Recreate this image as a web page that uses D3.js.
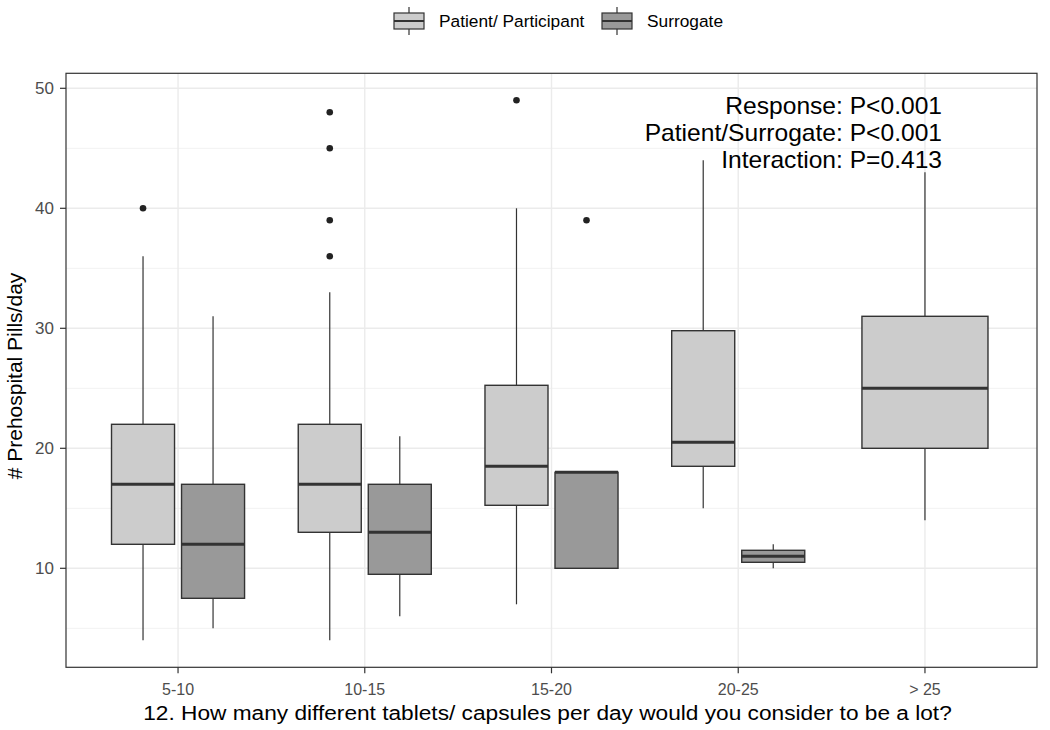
<!DOCTYPE html>
<html><head><meta charset="utf-8">
<script src="https://cdn.jsdelivr.net/npm/d3@7"></script>
<style>body{margin:0;background:#fff}svg{display:block}text{font-family:"Liberation Sans",Arial,sans-serif}</style>
</head><body>
<svg id="c" width="1050" height="730"></svg>
<script>
const categories = ["5-10","10-15","15-20","20-25","> 25"];
const groups = ["Patient/ Participant","Surrogate"];
// Patient/ Participant box statistics
const patientLower  = [4, 4, 7, 15, 14];
const patientQ1     = [12, 13, 15.25, 18.5, 20];
const patientMedian = [17, 17, 18.5, 20.5, 25];
const patientQ3     = [22, 22, 25.25, 29.8, 31];
const patientUpper  = [36, 33, 40, 44, 43];
const patientOut    = [[40], [48, 45, 39, 36], [49], [], []];
// Surrogate box statistics (no surrogate in "> 25")
const surrCats      = ["5-10","10-15","15-20","20-25"];
const surrLower     = [5, 6, 10, 10];
const surrQ1        = [7.5, 9.5, 10, 10.5];
const surrMedian    = [12, 13, 18, 11];
const surrQ3        = [17, 17, 18, 11.5];
const surrUpper     = [31, 21, 18, 12];
const surrOut       = [[], [], [39], []];
const yTicks = [10, 20, 30, 40, 50];
const yMinor = [5, 15, 25, 35, 45];
const annotations = ["Response: P<0.001","Patient/Surrogate: P<0.001","Interaction: P=0.413"];
const fills = {"Patient/ Participant":"#cccccc","Surrogate":"#999999"};

const svg = d3.select("#c");
const L = 66, R = 1037, T = 73.3, B = 667.3;
const x = d3.scalePoint().domain(categories).range([L, R]).padding(0.6);
const y = d3.scaleLinear().domain([1.75, 51.25]).range([B, T]);
const step = x.step();
const dodgeW = 0.75 * step;

function txt(sel, tx, ty, s, size, anchor, fill, sx, rot) {
  return sel.append("text")
    .attr("transform", `translate(${tx},${ty})` + (rot ? ` rotate(${rot})` : "") + ` scale(${sx},1)`)
    .attr("text-anchor", anchor).attr("font-size", size).attr("fill", fill).text(s);
}

// panel grid
const g = svg.append("g");
g.selectAll(".minor").data(yMinor).join("line")
  .attr("x1", L).attr("x2", R).attr("y1", d => y(d)).attr("y2", d => y(d))
  .attr("stroke", "#f2f2f2").attr("stroke-width", 1);
g.selectAll(".major").data(yTicks).join("line")
  .attr("x1", L).attr("x2", R).attr("y1", d => y(d)).attr("y2", d => y(d))
  .attr("stroke", "#ebebeb").attr("stroke-width", 1.4);
g.selectAll(".vmajor").data(categories).join("line")
  .attr("y1", T).attr("y2", B).attr("x1", d => x(d)).attr("x2", d => x(d))
  .attr("stroke", "#ebebeb").attr("stroke-width", 1.4);

// build boxes
const boxes = [];
categories.forEach((c, i) => {
  const j = surrCats.indexOf(c);
  const n = j >= 0 ? 2 : 1;
  const slot = dodgeW / n;
  const bw = slot * 0.9;
  const left = x(c) - dodgeW / 2;
  boxes.push({cx: left + slot / 2, bw, lo: patientLower[i], q1: patientQ1[i], med: patientMedian[i], q3: patientQ3[i], hi: patientUpper[i], out: patientOut[i], fill: fills[groups[0]]});
  if (j >= 0) {
    boxes.push({cx: left + slot * 1.5, bw, lo: surrLower[j], q1: surrQ1[j], med: surrMedian[j], q3: surrQ3[j], hi: surrUpper[j], out: surrOut[j], fill: fills[groups[1]]});
  }
});

const bg = svg.append("g");
boxes.forEach(b => {
  const s = bg.append("g");
  s.append("line").attr("x1", b.cx).attr("x2", b.cx).attr("y1", y(b.hi)).attr("y2", y(b.q3)).attr("stroke", "#333").attr("stroke-width", 1.2);
  s.append("line").attr("x1", b.cx).attr("x2", b.cx).attr("y1", y(b.q1)).attr("y2", y(b.lo)).attr("stroke", "#333").attr("stroke-width", 1.2);
  s.append("rect").attr("x", b.cx - b.bw / 2).attr("width", b.bw).attr("y", y(b.q3)).attr("height", y(b.q1) - y(b.q3))
    .attr("fill", b.fill).attr("stroke", "#333").attr("stroke-width", 1.4);
  s.append("line").attr("x1", b.cx - b.bw / 2).attr("x2", b.cx + b.bw / 2).attr("y1", y(b.med)).attr("y2", y(b.med)).attr("stroke", "#333").attr("stroke-width", 3);
  s.selectAll("circle").data(b.out).join("circle").attr("cx", b.cx).attr("cy", d => y(d)).attr("r", 3.3).attr("fill", "#222");
});

// panel border
svg.append("rect").attr("x", L).attr("y", T).attr("width", R - L).attr("height", B - T).attr("fill", "none").attr("stroke", "#333").attr("stroke-width", 1.2);

// axes
const ya = svg.append("g");
yTicks.forEach(t => {
  ya.append("line").attr("x1", L - 6).attr("x2", L).attr("y1", y(t)).attr("y2", y(t)).attr("stroke", "#333").attr("stroke-width", 1.2);
  txt(ya, L - 12, y(t) + 6, t, 16.5, "end", "#4d4d4d", 1.03);
});
const xa = svg.append("g");
categories.forEach(c => {
  xa.append("line").attr("x1", x(c)).attr("x2", x(c)).attr("y1", B).attr("y2", B + 6).attr("stroke", "#333").attr("stroke-width", 1.2);
  txt(xa, x(c), B + 28, c, 16, "middle", "#4d4d4d", 1.0);
});
txt(svg, (L + R) / 2 - 4, 720, "12. How many different tablets/ capsules per day would you consider to be a lot?", 21, "middle", "#000", 1.08);
txt(svg, 22, 376, "# Prehospital Pills/day", 21, "middle", "#000", 1.0, -90);

// annotations
annotations.forEach((a, i) => {
  txt(svg, 942, 114 + i * 27.2, a, 23, "end", "#000", 1.07);
});

// legend
const leg = svg.append("g");
const legItems = [{label: groups[0], kx: 394, tx: 439}, {label: groups[1], kx: 602, tx: 647}];
legItems.forEach(it => {
  const cx = it.kx + 15;
  leg.append("line").attr("x1", cx).attr("x2", cx).attr("y1", 7).attr("y2", 35).attr("stroke", "#333").attr("stroke-width", 1.2);
  leg.append("rect").attr("x", it.kx).attr("y", 13).attr("width", 30).attr("height", 16).attr("fill", fills[it.label]).attr("stroke", "#333").attr("stroke-width", 1.2);
  leg.append("line").attr("x1", it.kx).attr("x2", it.kx + 30).attr("y1", 21).attr("y2", 21).attr("stroke", "#333").attr("stroke-width", 2);
  txt(leg, it.tx, 27, it.label, 16.5, "start", "#000", 1.05);
});
</script>
</body></html>
